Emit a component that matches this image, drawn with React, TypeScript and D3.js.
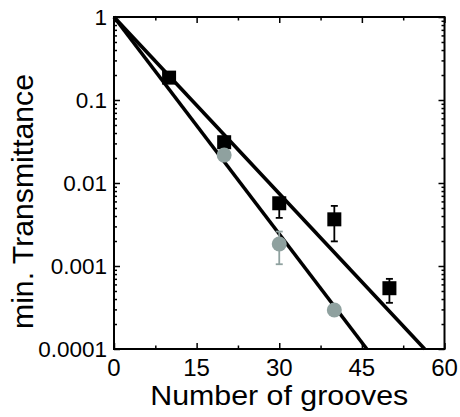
import React, { useRef, useEffect } from "react";
import * as d3 from "d3";

// values
const squareGrooves = [10, 20, 30, 40, 50];
const squareT = [0.186, 0.031, 0.0057, 0.00365, 0.00054];
const squareHi = [null, null, 0.0066, 0.0053, 0.0007];
const squareLo = [null, null, 0.0038, 0.00198, 0.00036];

const circleGrooves = [20, 30, 40];
const circleT = [0.0217, 0.00184, 0.000295];
const circleHi = [null, 0.0026, null];
const circleLo = [null, 0.00105, null];

// fitted lines (end points)
const squareFit = [
  [0, 1],
  [56.4, 0.0001],
];
const circleFit = [
  [0, 1],
  [45.9, 0.0001],
];

const xTicks = [0, 15, 30, 45, 60];
const xMinor = [7.5, 22.5, 37.5, 52.5];
const yTicks = [1, 0.1, 0.01, 0.001, 0.0001];
const yTickLabels = ["1", "0.1", "0.01", "0.001", "0.0001"];

const xTitle = "Number of grooves";
const yTitle = "min. Transmittance";

const circleColor = "#8fa19f";

export default function App() {
  const svgRef = useRef<SVGSVGElement>(null);

  useEffect(() => {
    const svg = d3.select(svgRef.current);
    svg.selectAll("*").remove();

    const W = 460;
    const H = 417;
    const left = 114;
    const right = 444.5;
    const top = 17;
    const bottom = 349;
    const font = "Liberation Sans, Arial, sans-serif";

    svg.attr("width", W).attr("height", H);
    svg.append("rect").attr("width", W).attr("height", H).attr("fill", "white");

    const x = d3.scaleLinear().domain([0, 60]).range([left, right]);
    const y = d3.scaleLog().domain([0.0001, 1]).range([bottom, top]);

    const yMinor = y.ticks().filter((v) => !yTicks.some((t) => Math.abs(t - v) / t < 1e-6));

    // ticks, all pointing inward
    const tickGroup = svg.append("g").attr("stroke", "black").attr("stroke-width", 1.5);
    const drawTicks = (axis: any, transform: string) => {
      const g = tickGroup
        .append("g")
        .attr("transform", transform)
        .call(axis.tickSizeOuter(0).tickFormat(() => ""));
      g.select(".domain").remove();
      g.selectAll("line").attr("stroke", "black").attr("stroke-width", 1.5);
    };
    drawTicks(d3.axisBottom(x).tickValues(xTicks).tickSizeInner(-6), `translate(0,${bottom})`);
    drawTicks(d3.axisBottom(x).tickValues(xMinor).tickSizeInner(-3.5), `translate(0,${bottom})`);
    drawTicks(d3.axisTop(x).tickValues(xTicks).tickSizeInner(-6), `translate(0,${top})`);
    drawTicks(d3.axisTop(x).tickValues(xMinor).tickSizeInner(-3.5), `translate(0,${top})`);
    drawTicks(d3.axisLeft(y).tickValues(yTicks).tickSizeInner(-6), `translate(${left},0)`);
    drawTicks(d3.axisLeft(y).tickValues(yMinor).tickSizeInner(-3), `translate(${left},0)`);
    drawTicks(d3.axisRight(y).tickValues(yTicks).tickSizeInner(-6), `translate(${right},0)`);
    drawTicks(d3.axisRight(y).tickValues(yMinor).tickSizeInner(-3), `translate(${right},0)`);

    // fit lines
    const line = d3
      .line<number[]>()
      .x((d) => x(d[0]))
      .y((d) => y(d[1]));
    [squareFit, circleFit].forEach((fit) => {
      svg
        .append("path")
        .datum(fit)
        .attr("fill", "none")
        .attr("stroke", "black")
        .attr("stroke-width", 3.6)
        .attr("d", line);
    });

    // error bars
    const errBars = (xs: number[], hi: (number | null)[], lo: (number | null)[], color: string) => {
      xs.forEach((gx, i) => {
        const h = hi[i];
        const l = lo[i];
        if (h == null || l == null) return;
        const cx = x(gx);
        const g = svg.append("g").attr("stroke", color).attr("stroke-width", 1.8);
        g.append("line").attr("x1", cx).attr("x2", cx).attr("y1", y(h)).attr("y2", y(l));
        g.append("line").attr("x1", cx - 3.5).attr("x2", cx + 3.5).attr("y1", y(h)).attr("y2", y(h));
        g.append("line").attr("x1", cx - 3.5).attr("x2", cx + 3.5).attr("y1", y(l)).attr("y2", y(l));
      });
    };
    errBars(squareGrooves, squareHi, squareLo, "black");
    errBars(circleGrooves, circleHi, circleLo, circleColor);

    // squares
    const s = 14;
    svg
      .append("g")
      .selectAll("rect")
      .data(squareGrooves)
      .join("rect")
      .attr("x", (d) => x(d) - s / 2)
      .attr("y", (d, i) => y(squareT[i]) - s / 2)
      .attr("width", s)
      .attr("height", s)
      .attr("fill", "black");

    // circles
    svg
      .append("g")
      .selectAll("circle")
      .data(circleGrooves)
      .join("circle")
      .attr("cx", (d) => x(d))
      .attr("cy", (d, i) => y(circleT[i]))
      .attr("r", 7.5)
      .attr("fill", circleColor);

    // frame
    svg
      .append("rect")
      .attr("x", left)
      .attr("y", top)
      .attr("width", right - left)
      .attr("height", bottom - top)
      .attr("fill", "none")
      .attr("stroke", "black")
      .attr("stroke-width", 2);

    // tick labels
    svg
      .append("g")
      .selectAll("text")
      .data(xTicks)
      .join("text")
      .attr("x", (d) => x(d))
      .attr("y", 375.5)
      .attr("text-anchor", "middle")
      .attr("font-family", font)
      .attr("font-size", 24)
      .text((d) => String(d));

    svg
      .append("g")
      .selectAll("text")
      .data(yTicks)
      .join("text")
      .attr("x", 107)
      .attr("y", (d) => y(d) + 8)
      .attr("text-anchor", "end")
      .attr("font-family", font)
      .attr("font-size", 22.5)
      .text((d, i) => yTickLabels[i]);

    // axis titles
    svg
      .append("text")
      .attr("x", (left + right) / 2)
      .attr("y", 405)
      .attr("text-anchor", "middle")
      .attr("font-family", font)
      .attr("font-size", 27)
      .attr("textLength", 258)
      .attr("lengthAdjust", "spacingAndGlyphs")
      .text(xTitle);

    svg
      .append("text")
      .attr("transform", `translate(32.5,${201.5}) rotate(-90)`)
      .attr("text-anchor", "middle")
      .attr("font-family", font)
      .attr("font-size", 30)
      .attr("textLength", 255)
      .attr("lengthAdjust", "spacingAndGlyphs")
      .text(yTitle);
  }, []);

  return (
    <svg
      ref={svgRef}
      style={{ position: "absolute", left: 0, top: 0, display: "block" }}
    ></svg>
  );
}
